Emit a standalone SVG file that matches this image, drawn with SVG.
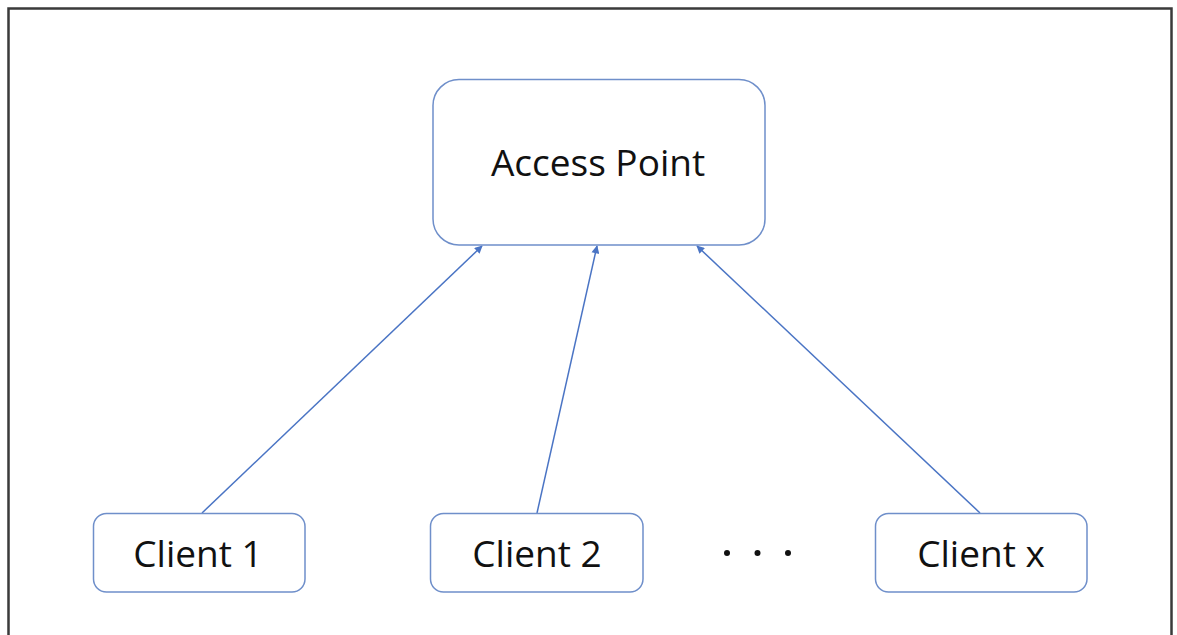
<svg xmlns="http://www.w3.org/2000/svg" width="1177" height="635" viewBox="0 0 1177 635">
  <style>
    .frame { fill: #ffffff; stroke: #3a3a3a; stroke-width: 2.5; }
    .node rect { fill: #ffffff; stroke: #6f8fca; stroke-width: 1.5; }
    .node text { font-family: "Open Sans", "Liberation Sans", sans-serif; font-size: 37px; fill: #111111; text-anchor: middle; }
    .link { stroke: #4a74c4; stroke-width: 1.5; fill: none; marker-end: url(#arrow); }
    .dot { fill: #111111; }
  </style>
  <defs>
    <marker id="arrow" viewBox="0 0 10 10" refX="9" refY="5" markerWidth="9" markerHeight="8" markerUnits="userSpaceOnUse" orient="auto">
      <path d="M0,0 L10,5 L0,10 z" fill="#4a74c4"/>
    </marker>
  </defs>

  <rect width="1177" height="635" fill="#ffffff"/>
  <!-- outer frame (bottom edge runs off the canvas) -->
  <rect class="frame" x="8.5" y="8.5" width="1163" height="640"/>

  <g id="connectors">
    <line class="link" x1="202" y1="513" x2="482" y2="246"/>
    <line class="link" x1="537" y1="513" x2="597" y2="246"/>
    <line class="link" x1="980" y1="513" x2="697" y2="246"/>
  </g>

  <g id="access-point" class="node">
    <rect x="433" y="79.5" width="332" height="165.5" rx="26" ry="26"/>
    <text x="598" y="176">Access Point</text>
  </g>

  <g id="client-1" class="node">
    <rect x="93.5" y="513.5" width="211.5" height="78.5" rx="13" ry="13"/>
    <text x="198" y="567">Client 1</text>
  </g>

  <g id="client-2" class="node">
    <rect x="430.5" y="513.5" width="212.5" height="78.5" rx="13" ry="13"/>
    <text x="537" y="567">Client 2</text>
  </g>

  <g id="ellipsis">
    <circle class="dot" cx="727" cy="553" r="3"/>
    <circle class="dot" cx="757.5" cy="553" r="3"/>
    <circle class="dot" cx="788" cy="553" r="3"/>
  </g>

  <g id="client-x" class="node">
    <rect x="875.5" y="513.5" width="211.5" height="78.5" rx="13" ry="13"/>
    <text x="981" y="567">Client x</text>
  </g>
</svg>
